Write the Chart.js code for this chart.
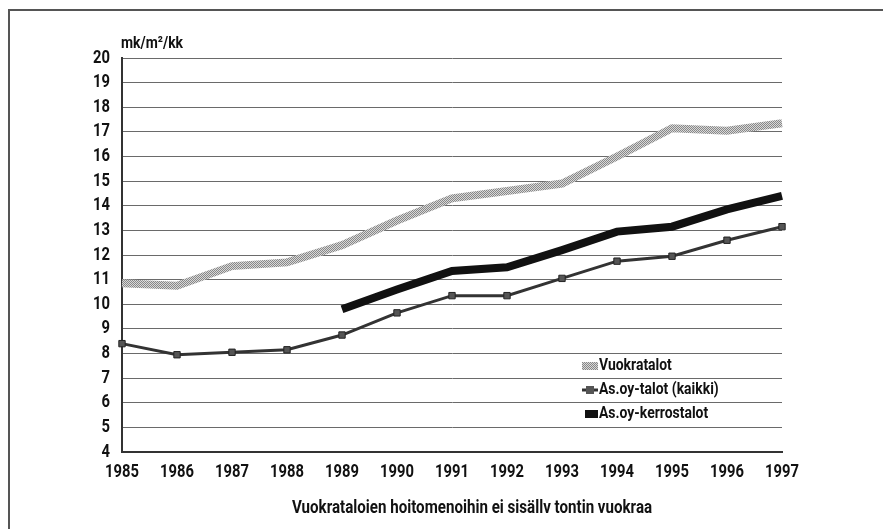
<!DOCTYPE html>
<html>
<head>
<meta charset="utf-8">
<script src="https://cdn.jsdelivr.net/npm/chart.js@4"></script>
<style>
    body { margin: 0; background: #fff; }
    #kehys { position: relative; width: 883px; height: 529px; overflow: hidden; }
    #kehys canvas { position: absolute; left: 0; top: 0; }
    .viiva { position: absolute; background: #555; }
</style>
</head>
<body>
<div id="kehys">
    <canvas id="graficoMenot" width="883" height="529"></canvas>
    <div class="viiva" style="left:8px; top:9px; width:875px; height:2px;"></div>
    <div class="viiva" style="left:8px; top:9px; width:2px; height:520px;"></div>
</div>
<script>
// vuodet ja sarjat (mk/m²/kk)
const vuodet = ['1985', '1986', '1987', '1988', '1989', '1990', '1991', '1992', '1993', '1994', '1995', '1996', '1997'];
const vuokratalot = [10.85, 10.75, 11.55, 11.7, 12.4, 13.4, 14.3, 14.6, 14.9, 16.0, 17.15, 17.05, 17.35];
const asoyKaikki = [8.4, 7.95, 8.05, 8.15, 8.75, 9.65, 10.35, 10.35, 11.05, 11.75, 11.95, 12.6, 13.15];
const asoyKerrostalot = [null, null, null, null, 9.8, 10.6, 11.35, 11.5, 12.2, 12.95, 13.15, 13.85, 14.4];
const sarjaNimet = ['Vuokratalot', 'As.oy-talot (kaikki)', 'As.oy-kerrostalot'];
const yMin = 4, yMax = 20, yAskel = 1;
const yksikko = 'mk/m²/kk';
const alaTeksti = 'Vuokrataloien hoitomenoihin ei sisällv tontin vuokraa';

const fontti = 'Roboto, "DejaVu Sans", sans-serif';

document.addEventListener('DOMContentLoaded', function () {

    // harmaa pisterasteri vuokrataloille
    function rasteri() {
        const c = document.createElement('canvas');
        c.width = 2;
        c.height = 2;
        const g = c.getContext('2d');
        g.fillStyle = '#d8d8d8';
        g.fillRect(0, 0, 2, 2);
        g.fillStyle = '#888';
        g.fillRect(0, 0, 1, 1);
        g.fillRect(1, 1, 1, 1);
        return g.createPattern(c, 'repeat');
    }

    // kapea teksti (alkuperäisessä kondensoitu groteski)
    function kapeaTeksti(c, s, x, y, tasaus, koko, kerroin) {
        c.save();
        c.font = 'bold ' + koko + 'px ' + fontti;
        c.translate(x, y);
        c.scale(kerroin, 1);
        c.textAlign = tasaus;
        c.fillText(s, 0, 0);
        c.restore();
    }

    const ctx = document.getElementById('graficoMenot').getContext('2d');
    const harmaa = rasteri();

    // akselien luvut, selite ja tekstit
    const tekstit = {
        id: 'tekstit',
        afterDraw(chart) {
            const c = chart.ctx;
            const ca = chart.chartArea;
            const sx = chart.scales.x;
            const sy = chart.scales.y;
            c.save();
            c.fillStyle = '#111';
            c.textBaseline = 'middle';

            sx.ticks.forEach((t, i) => {
                kapeaTeksti(c, sx.getLabelForValue(t.value), sx.getPixelForTick(i), ca.bottom + 20, 'center', 18, 0.82);
            });
            sy.ticks.forEach((t, i) => {
                kapeaTeksti(c, String(t.value), ca.left - 12, sy.getPixelForTick(i), 'right', 18, 0.82);
            });

            kapeaTeksti(c, yksikko, ca.left - 1, ca.top - 14, 'left', 17, 0.82);
            kapeaTeksti(c, alaTeksti, 472, 508, 'center', 18, 0.84);

            // selite
            const x0 = 582, tx = 599;
            const rivit = [366, 390, 414];

            c.fillStyle = harmaa;
            c.fillRect(x0, rivit[0] - 4, 16, 8);

            c.strokeStyle = '#333';
            c.lineWidth = 3;
            c.beginPath();
            c.moveTo(x0, rivit[1]);
            c.lineTo(x0 + 16, rivit[1]);
            c.stroke();
            c.fillStyle = '#555';
            c.fillRect(x0 + 4, rivit[1] - 4, 8, 8);

            c.fillStyle = '#111';
            c.fillRect(x0 + 3, rivit[2] - 4, 13, 8);

            sarjaNimet.forEach((nimi, i) => kapeaTeksti(c, nimi, tx, rivit[i], 'left', 17, 0.82));
            c.restore();
        }
    };

    new Chart(ctx, {
        type: 'line',
        data: {
            labels: vuodet,
            datasets: [{
                label: sarjaNimet[0],
                data: vuokratalot,
                borderColor: harmaa,
                borderWidth: 8,
                pointRadius: 0,
                tension: 0
            }, {
                label: sarjaNimet[1],
                data: asoyKaikki,
                borderColor: '#333',
                borderWidth: 3,
                pointStyle: 'rect',
                pointRadius: 4.5,
                pointBackgroundColor: '#555',
                pointBorderColor: '#222',
                pointBorderWidth: 1,
                tension: 0
            }, {
                label: sarjaNimet[2],
                data: asoyKerrostalot,
                borderColor: '#111',
                borderWidth: 8,
                pointRadius: 0,
                tension: 0
            }]
        },
        options: {
            responsive: false,
            animation: false,
            layout: {
                padding: { top: 58, right: 101, bottom: 0, left: 0 }
            },
            plugins: {
                legend: { display: false },
                tooltip: { enabled: false }
            },
            scales: {
                x: {
                    offset: false,
                    afterFit: function (scale) { scale.height = 77; },
                    grid: { display: false, drawTicks: false },
                    border: { display: true, color: '#333', width: 2 },
                    ticks: { display: false, autoSkip: false, maxRotation: 0 }
                },
                y: {
                    min: yMin,
                    max: yMax,
                    afterFit: function (scale) { scale.width = 122; },
                    grid: { color: '#6a6a6a', lineWidth: 1, drawTicks: false },
                    border: { display: true, color: '#333', width: 2 },
                    ticks: { display: false, stepSize: yAskel }
                }
            }
        },
        plugins: [tekstit]
    });
});
</script>
</body>
</html>
